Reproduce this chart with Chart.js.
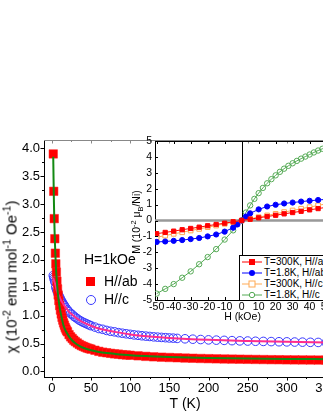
<!DOCTYPE html>
<html>
<head>
<meta charset="utf-8">
<script src="https://cdn.jsdelivr.net/npm/chart.js@4.4.1/dist/chart.umd.min.js"></script>
<style>
  html, body { margin: 0; padding: 0; background: #fff; }
  #wrap { position: relative; width: 323px; height: 418px; overflow: hidden; font-family: "Liberation Sans", Arial, sans-serif; color: #000; }
  #main { position: absolute; left: 0; top: 0; }
  #inset { position: absolute; left: 125px; top: 130px; }
  .ytitle { position: absolute; white-space: nowrap; transform: translate(-50%, -50%) rotate(-90deg); }
  .ytitle sup, .ytitle sub { font-size: 70%; }
  .leg { position: absolute; white-space: nowrap; }
  #insetLegend { position: absolute; left: 239px; top: 255px; width: 100px; height: 44px; border: 1px solid #000; background: #fff; font-size: 10px; }
  #insetLegend div { height: 11px; line-height: 11px; display: flex; align-items: center; padding-left: 2px; }
  #insetLegend svg { margin-right: 2px; }
</style>
</head>
<body>
<div id="wrap">
  <canvas id="main" width="360" height="418"></canvas>
  <canvas id="inset" width="215" height="195"></canvas>

  <div class="ytitle" style="left:10px; top:277px; font-size:15px;">χ (10<sup>-2</sup> emu mol<sup>-1</sup> Oe<sup>-1</sup>)</div>
  <div class="ytitle" style="left:137px; top:222px; font-size:10.5px;">M (10<sup>-2</sup> μ<sub>B</sub>/Ni)</div>

  <div class="leg" style="left:84px; top:251px; font-size:14px;">H=1kOe</div>
  <div class="leg" style="left:86px; top:277px; width:9px; height:9px; background:#ff0000;"></div>
  <div class="leg" style="left:104px; top:273px; font-size:14px;">H//ab</div>
  <div class="leg" style="left:86px; top:295px; width:8px; height:8px; border:1px solid #3a3aff; border-radius:50%;"></div>
  <div class="leg" style="left:104px; top:291px; font-size:14px;">H//c</div>

  <div id="insetLegend">
    <div><svg width="20" height="8"><line x1="0" y1="4" x2="20" y2="4" stroke="#ff0000"/><rect x="7" y="1" width="6" height="6" fill="#ff0000"/></svg>T=300K, H//ab</div>
    <div><svg width="20" height="8"><line x1="0" y1="4" x2="20" y2="4" stroke="#0000ff"/><circle cx="10" cy="4" r="3" fill="#0000ff"/></svg>T=1.8K, H//ab</div>
    <div><svg width="20" height="8"><line x1="0" y1="4" x2="20" y2="4" stroke="#ffaa55"/><rect x="7" y="1" width="6" height="6" fill="#fff" stroke="#ffaa55"/></svg>T=300K, H//c</div>
    <div><svg width="20" height="8"><line x1="0" y1="4" x2="20" y2="4" stroke="#55aa55"/><circle cx="10" cy="4" r="2.7" fill="#fff" stroke="#55aa55"/></svg>T=1.8K, H//c</div>
  </div>
</div>

<script>
// main panel: susceptibility vs temperature
const tAb = [1.8, 2.4, 3.1, 3.8, 4.5, 5.1, 5.8, 6.5, 7.3, 8.1, 9, 10, 11, 12, 13, 14, 15, 16, 17, 18, 19, 20,
  22, 24, 26, 28, 30, 32.5, 35, 37.5, 40, 42.5, 45, 47.5, 50, 55, 60, 65, 70, 75, 80, 85, 90, 95, 100,
  110, 120, 130, 140, 150, 160, 170, 180, 190, 200, 210, 220, 230, 240, 250, 260, 270, 280, 290, 300, 310, 320, 330, 340, 350];
const chiAb = [3.90, 3.23, 2.74, 2.38, 2.12, 1.93, 1.78, 1.62, 1.48, 1.37, 1.27, 1.18, 1.10, 1.03, 0.97, 0.92, 0.87, 0.83, 0.79, 0.76, 0.73, 0.71,
  0.66, 0.62, 0.59, 0.56, 0.535, 0.51, 0.485, 0.465, 0.45, 0.435, 0.42, 0.41, 0.40, 0.38, 0.36, 0.345, 0.335, 0.325, 0.315, 0.31, 0.30, 0.295, 0.29,
  0.28, 0.27, 0.262, 0.255, 0.25, 0.245, 0.24, 0.236, 0.232, 0.229, 0.226, 0.223, 0.221, 0.219, 0.217, 0.215, 0.213, 0.211, 0.21, 0.208, 0.207, 0.206, 0.205, 0.204, 0.203];

const tC = [1.8, 2.5, 3, 3.5, 4, 5, 6, 7, 8, 9, 10, 11, 12, 13, 14, 15, 16, 18, 20, 22, 24, 26, 28, 30,
  32.5, 35, 37.5, 40, 42.5, 45, 47.5, 50, 55, 60, 65, 70, 75, 80, 85, 90, 95, 100, 105, 110, 115, 120, 125, 130, 135, 140, 145, 150, 155, 160,
  170, 180, 190, 200, 210, 220, 230, 240, 250, 260, 270, 280, 290, 300, 310, 320, 330, 340, 350];
const chiC = [1.72, 1.69, 1.66, 1.63, 1.60, 1.51, 1.47, 1.43, 1.39, 1.36, 1.33, 1.30, 1.27, 1.25, 1.22, 1.20, 1.18, 1.14, 1.10, 1.07, 1.04, 1.02, 0.99, 0.97,
  0.945, 0.92, 0.90, 0.88, 0.865, 0.85, 0.835, 0.82, 0.795, 0.77, 0.755, 0.735, 0.72, 0.71, 0.695, 0.685, 0.675, 0.665, 0.655, 0.648, 0.64, 0.633, 0.627, 0.62, 0.615, 0.61, 0.605, 0.60, 0.597, 0.592,
  0.585, 0.578, 0.572, 0.566, 0.561, 0.557, 0.552, 0.548, 0.545, 0.541, 0.538, 0.535, 0.532, 0.53, 0.527, 0.525, 0.522, 0.52, 0.518];

// fitted curves
const tFit = [1.8, 2.2, 2.6, 3, 3.5, 4, 5, 6, 7, 8, 10, 12, 15, 18, 22, 26, 30, 35, 40, 50, 60, 70, 80, 100, 125, 150, 200, 250, 300, 350];
const fitAb = [3.85, 3.45, 3.09, 2.81, 2.52, 2.29, 1.94, 1.69, 1.51, 1.36, 1.15, 1.0, 0.82, 0.72, 0.625, 0.555, 0.505, 0.46, 0.425, 0.38, 0.35, 0.33, 0.315, 0.29, 0.272, 0.258, 0.242, 0.232, 0.225, 0.22];
const fitC = [1.68, 1.66, 1.64, 1.62, 1.60, 1.58, 1.53, 1.47, 1.43, 1.39, 1.33, 1.27, 1.20, 1.14, 1.07, 1.02, 0.97, 0.92, 0.88, 0.82, 0.77, 0.737, 0.71, 0.664, 0.627, 0.60, 0.566, 0.545, 0.53, 0.519];

const mainXTicks = [0, 25, 50, 75, 100, 125, 150, 175, 200, 225, 250, 275, 300, 325, 350];
const mainYTicks = [0, 0.25, 0.5, 0.75, 1, 1.25, 1.5, 1.75, 2, 2.25, 2.5, 2.75, 3, 3.25, 3.5, 3.75, 4];

// inset: magnetization vs field
const hAb300 = [-50, -45, -40, -35, -30, -25, -20, -15, -10, -5, 0, 5, 10, 15, 20, 25, 30, 35, 40, 45, 50];
const mAb300 = [-0.83, -0.75, -0.67, -0.58, -0.5, -0.42, -0.33, -0.25, -0.17, -0.08, 0, 0.08, 0.17, 0.25, 0.33, 0.42, 0.5, 0.58, 0.67, 0.75, 0.83];
const hAb18 = [-50, -45, -40, -35, -30, -25, -20, -15, -10, -5, -2.5, 0, 2.5, 5, 10, 15, 20, 25, 30, 35, 40, 45, 50];
const mAb18 = [-1.35, -1.32, -1.28, -1.23, -1.17, -1.1, -1.0, -0.88, -0.7, -0.45, -0.25, 0, 0.25, 0.45, 0.7, 0.88, 0.99, 1.07, 1.13, 1.19, 1.24, 1.29, 1.33];
const hC300 = [-50, -45, -40, -35, -30, -25, -20, -15, -10, -5, 0, 5, 10, 15, 20, 25, 30, 35, 40, 45, 50];
const mC300 = [-1.05, -0.95, -0.84, -0.74, -0.63, -0.53, -0.42, -0.32, -0.21, -0.11, 0, 0.11, 0.21, 0.32, 0.42, 0.53, 0.63, 0.74, 0.84, 0.95, 1.05];
const hC18 = [-50, -45, -40, -35, -30, -25, -20, -15, -10, -5, 0, 2.5, 5, 7.5, 10, 12.5, 15, 17.5, 20, 22.5, 25,
  27.5, 30, 32.5, 35, 37.5, 40, 42.5, 45, 47.5, 50];
const mC18 = [-4.6, -4.3, -4.0, -3.6, -3.2, -2.75, -2.3, -1.8, -1.2, -0.62, 0, 0.5, 0.95, 1.36, 1.72, 2.05, 2.34, 2.6, 2.84, 3.06, 3.26,
  3.44, 3.6, 3.75, 3.89, 4.02, 4.15, 4.28, 4.4, 4.51, 4.62];

const insetXTicks = [-50, -40, -30, -20, -10, 0, 10, 20, 30, 40, 50];
const insetYTicks = [-5, -4, -3, -2, -1, 0, 1, 2, 3, 4, 5];

const FONT = '"Liberation Sans", Arial, sans-serif';
Chart.defaults.font.family = FONT;
Chart.defaults.color = '#000';

function pts(xs, ys) {
  return xs.map((x, i) => ({ x: x, y: ys[i] }));
}

// draws tick marks (major longer than minor) on the bottom and left axes, plus the top frame
function tickMarks(inward, major, minor, frameColor) {
  return {
    id: 'tickMarks',
    afterDraw(chart) {
      const ctx = chart.ctx;
      const a = chart.chartArea;
      const sx = chart.scales.x, sy = chart.scales.y;
      const dir = inward ? -1 : 1;
      ctx.save();
      ctx.lineWidth = 1;
      ctx.strokeStyle = '#000';
      ctx.beginPath();
      sx.ticks.forEach(t => {
        const px = Math.round(sx.getPixelForValue(t.value)) + 0.5;
        const l = t.label !== '' ? major : minor;
        ctx.moveTo(px, a.bottom);
        ctx.lineTo(px, a.bottom + dir * l);
      });
      sy.ticks.forEach(t => {
        const py = Math.round(sy.getPixelForValue(t.value)) + 0.5;
        const l = t.label !== '' ? major : minor;
        ctx.moveTo(a.left, py);
        ctx.lineTo(a.left - dir * l, py);
      });
      ctx.stroke();
      // top frame
      ctx.strokeStyle = frameColor;
      ctx.beginPath();
      ctx.moveTo(a.left, Math.round(a.top) + 0.5);
      ctx.lineTo(a.right, Math.round(a.top) + 0.5);
      sx.ticks.forEach(t => {
        const px = Math.round(sx.getPixelForValue(t.value)) + 0.5;
        const l = t.label !== '' ? major : minor;
        ctx.moveTo(px, a.top);
        ctx.lineTo(px, a.top + l);
      });
      ctx.stroke();
      ctx.restore();
    }
  };
}

// zero lines in the inset
const zeroLines = {
  id: 'zeroLines',
  beforeDatasetsDraw(chart) {
    const ctx = chart.ctx;
    const a = chart.chartArea;
    const y0 = chart.scales.y.getPixelForValue(0);
    const x0 = chart.scales.x.getPixelForValue(0);
    ctx.save();
    ctx.strokeStyle = '#999';
    ctx.lineWidth = 2.5;
    ctx.beginPath();
    ctx.moveTo(a.left, y0);
    ctx.lineTo(a.right, y0);
    ctx.stroke();
    ctx.strokeStyle = '#000';
    ctx.lineWidth = 1;
    ctx.beginPath();
    ctx.moveTo(Math.round(x0) + 0.5, a.top);
    ctx.lineTo(Math.round(x0) + 0.5, a.bottom);
    ctx.stroke();
    ctx.restore();
  }
};

new Chart(document.getElementById('main').getContext('2d'), {
  type: 'scatter',
  data: {
    datasets: [
      {
        label: 'H//c',
        data: pts(tC, chiC),
        pointStyle: 'circle',
        pointRadius: 4.3,
        pointBorderColor: '#3a3aff',
        pointBackgroundColor: 'rgba(0,0,0,0)',
        pointBorderWidth: 1,
        order: 4
      },
      {
        label: 'H//ab',
        data: pts(tAb, chiAb),
        pointStyle: 'rect',
        pointRadius: 6,
        pointBorderColor: '#ff2020',
        pointBackgroundColor: '#ff0000',
        pointBorderWidth: 0.5,
        order: 3
      },
      {
        label: 'fit H//c',
        data: pts(tFit, fitC),
        showLine: true,
        pointRadius: 0,
        borderColor: '#ff2d8c',
        borderWidth: 2,
        cubicInterpolationMode: 'monotone',
        order: 2
      },
      {
        label: 'fit H//ab',
        data: pts(tFit, fitAb),
        showLine: true,
        pointRadius: 0,
        borderColor: '#138a13',
        borderWidth: 2,
        cubicInterpolationMode: 'monotone',
        order: 1
      }
    ]
  },
  options: {
    responsive: false,
    animation: false,
    layout: { padding: { top: 140, right: 34, left: 0, bottom: 0 } },
    plugins: { legend: { display: false }, tooltip: { enabled: false } },
    scales: {
      x: {
        type: 'linear', min: -10, max: 350,
        afterBuildTicks: s => { s.ticks = mainXTicks.map(v => ({ value: v })); },
        afterFit: s => { s.height = 41; },
        ticks: { callback: v => (v % 50 === 0 ? String(v) : ''), font: { size: 13 }, color: '#000', padding: 4, maxRotation: 0, autoSkip: false },
        grid: { display: false, drawTicks: false },
        border: { display: true, color: '#000', width: 1 },
        title: { display: true, text: 'T (K)', font: { size: 14 }, color: '#000', padding: { top: 0, bottom: 5 } }
      },
      y: {
        type: 'linear', min: -0.1, max: 4.15,
        afterBuildTicks: s => { s.ticks = mainYTicks.map(v => ({ value: v })); },
        afterFit: s => { s.width = 44; },
        ticks: { callback: v => (Math.abs(v * 2 - Math.round(v * 2)) < 1e-6 ? v.toFixed(1) : ''), font: { size: 13 }, color: '#000', padding: 4, autoSkip: false },
        grid: { display: false, drawTicks: false },
        border: { display: true, color: '#000', width: 1 }
      }
    }
  },
  plugins: [tickMarks(false, 3.5, 2, '#888')]
});

new Chart(document.getElementById('inset').getContext('2d'), {
  type: 'scatter',
  data: {
    datasets: [
      {
        label: 'T=300K, H//ab',
        data: pts(hAb300, mAb300),
        showLine: true,
        borderColor: '#ff0000',
        borderWidth: 1,
        pointStyle: 'rect',
        pointRadius: 3,
        pointBackgroundColor: '#ff0000',
        pointBorderColor: '#ff0000'
      },
      {
        label: 'T=1.8K, H//ab',
        data: pts(hAb18, mAb18),
        showLine: true,
        borderColor: '#0000ff',
        borderWidth: 1,
        pointStyle: 'circle',
        pointRadius: 2.6,
        pointBackgroundColor: '#0000ff',
        pointBorderColor: '#0000ff'
      },
      {
        label: 'T=300K, H//c',
        data: pts(hC300, mC300),
        showLine: true,
        borderColor: '#ffaa55',
        borderWidth: 1,
        pointStyle: 'rect',
        pointRadius: 3.3,
        pointBackgroundColor: '#ffffff',
        pointBorderColor: '#ffaa55'
      },
      {
        label: 'T=1.8K, H//c',
        data: pts(hC18, mC18),
        showLine: true,
        borderColor: '#55aa55',
        borderWidth: 1,
        pointStyle: 'circle',
        pointRadius: 2.7,
        pointBackgroundColor: 'rgba(255,255,255,0)',
        pointBorderColor: '#55aa55'
      }
    ]
  },
  options: {
    responsive: false,
    animation: false,
    layout: { padding: { top: 11, right: 10, left: 0, bottom: 0 } },
    plugins: { legend: { display: false }, tooltip: { enabled: false } },
    scales: {
      x: {
        type: 'linear', min: -51, max: 52,
        afterBuildTicks: s => { s.ticks = insetXTicks.map(v => ({ value: v })); },
        afterFit: s => { s.height = 25; },
        ticks: { font: { size: 10.5 }, color: '#000', padding: 1, maxRotation: 0, autoSkip: false },
        grid: { display: false, drawTicks: false },
        border: { display: true, color: '#000', width: 1 },
        title: { display: true, text: 'H (kOe)', font: { size: 10.5 }, color: '#000', padding: { top: 0, bottom: 2 } }
      },
      y: {
        type: 'linear', min: -5, max: 5,
        afterBuildTicks: s => { s.ticks = insetYTicks.map(v => ({ value: v })); },
        afterFit: s => { s.width = 30; },
        ticks: { font: { size: 10.5 }, color: '#000', padding: 3, autoSkip: false },
        grid: { display: false, drawTicks: false },
        border: { display: true, color: '#000', width: 1 }
      }
    }
  },
  plugins: [zeroLines, tickMarks(true, 3, 2, '#000')]
});
</script>
</body>
</html>
